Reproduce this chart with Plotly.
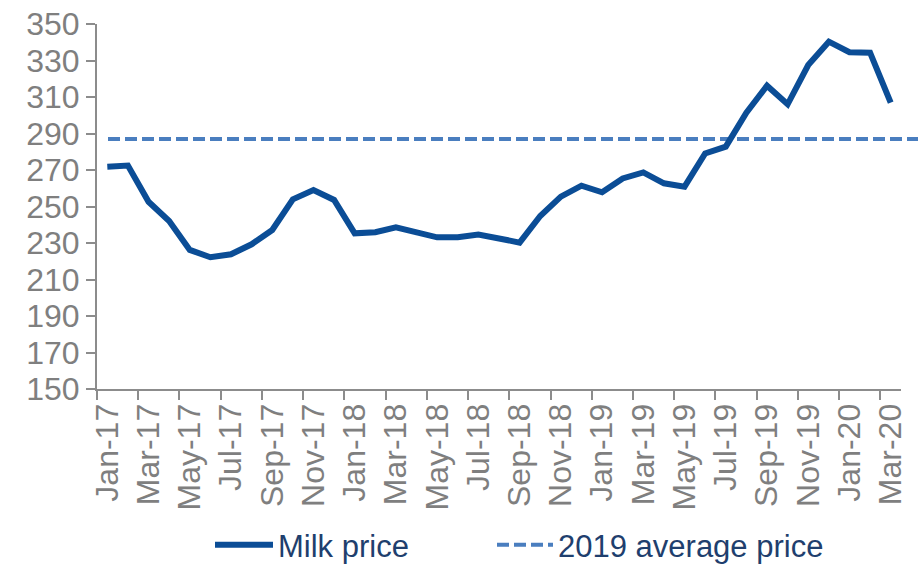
import plotly.graph_objects as go

months = ["Jan-17", "Feb-17", "Mar-17", "Apr-17", "May-17", "Jun-17", "Jul-17", "Aug-17", "Sep-17", "Oct-17", "Nov-17", "Dec-17",
          "Jan-18", "Feb-18", "Mar-18", "Apr-18", "May-18", "Jun-18", "Jul-18", "Aug-18", "Sep-18", "Oct-18", "Nov-18", "Dec-18",
          "Jan-19", "Feb-19", "Mar-19", "Apr-19", "May-19", "Jun-19", "Jul-19", "Aug-19", "Sep-19", "Oct-19", "Nov-19", "Dec-19",
          "Jan-20", "Feb-20", "Mar-20"]
milk_price = [271.8, 272.4, 252.6, 242.0, 226.2, 222.2, 223.8, 229.3, 237.1, 253.9, 259.0, 253.6,
              235.3, 235.9, 238.6, 235.9, 233.1, 233.1, 234.6, 232.5, 230.2, 244.8, 255.4, 261.4,
              257.8, 265.4, 268.7, 262.7, 260.9, 279.1, 282.8, 301.4, 316.2, 306.0, 327.5, 340.3,
              334.5, 334.3, 306.9]
avg_2019 = 287.0
y_ticks = [150, 170, 190, 210, 230, 250, 270, 290, 310, 330, 350]

MILK_COLOR = "#0B4D96"
AVG_COLOR = "#4A7EBF"
GRAY = "#7F7F7F"
AXIS = "#8C8C8C"

fig = go.Figure()
fig.add_trace(go.Scatter(
    x=months, y=milk_price, mode="lines", name="Milk price",
    line=dict(color=MILK_COLOR, width=6), legend="legend",
))
fig.add_trace(go.Scatter(
    x=[None], y=[None], mode="lines", name="2019 average price",
    line=dict(color=AVG_COLOR, width=4, dash="12px,5px"), legend="legend2",
))

W, H = 918, 566
L, R, T, B = 97, 17, 24, 177
pw = W - L - R
ph = H - T - B
x0_paper = (108 - L) / pw
x1_paper = (W - L) / pw
fig.add_shape(type="line", xref="paper", yref="y", x0=x0_paper, x1=x1_paper,
              y0=avg_2019, y1=avg_2019, layer="below",
              line=dict(color=AVG_COLOR, width=4, dash="12px,5px"))

legend_center_px = 545
leg_y = -(legend_center_px - (T + ph)) / ph
leg_font = dict(family="Liberation Sans, Arial, sans-serif", size=31, color="#1F3F6E")
fig.update_layout(
    width=W, height=H,
    margin=dict(l=L, r=R, t=T, b=B, autoexpand=False),
    paper_bgcolor="white", plot_bgcolor="white",
    font=dict(family="Liberation Sans, Arial, sans-serif", color=GRAY),
    showlegend=True,
    legend=dict(
        orientation="h", x=(210 - L) / pw, xanchor="left", y=leg_y, yanchor="middle",
        font=leg_font, itemwidth=58, bgcolor="rgba(0,0,0,0)",
    ),
    legend2=dict(
        orientation="h", x=(492 - L) / pw, xanchor="left", y=leg_y, yanchor="middle",
        font=leg_font, itemwidth=56, bgcolor="rgba(0,0,0,0)",
    ),
)
fig.update_xaxes(
    type="category", range=[-0.5, len(months) - 0.5],
    showline=True, linecolor=AXIS, linewidth=2,
    ticks="outside", ticklen=9, tickwidth=2, tickcolor=AXIS,
    tickson="boundaries", dtick=2, tick0=0,
    tickangle=-90, tickfont=dict(size=32, color=GRAY),
    showgrid=False, zeroline=False,
)
fig.update_yaxes(
    range=[150, 350], tickvals=y_ticks,
    showline=True, linecolor=AXIS, linewidth=2,
    ticks="outside", ticklen=9, tickwidth=2, tickcolor=AXIS,
    tickfont=dict(size=32, color=GRAY),
    showgrid=False, zeroline=False,
)

fig.write_html("out.html")
